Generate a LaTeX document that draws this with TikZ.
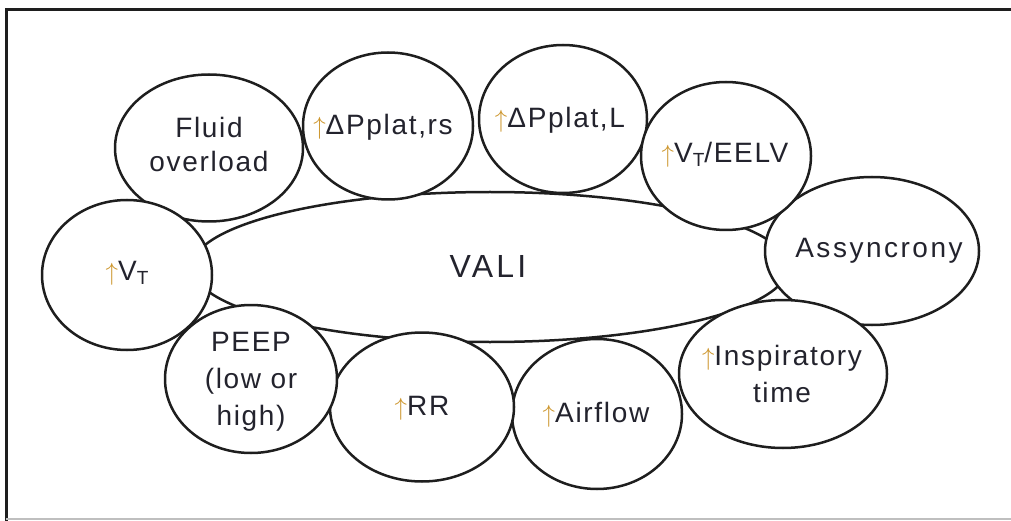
\documentclass[tikz,border=0pt]{standalone}
\usepackage{fontspec}
\setmainfont{Liberation Sans}[LetterSpace=6]
\usetikzlibrary{shapes.geometric}
\definecolor{txtc}{RGB}{35,35,45}
\definecolor{arrc}{RGB}{205,150,45}
\definecolor{linec}{RGB}{30,30,30}
\newcommand{\uparr}{{\color{arrc}$\uparrow$}}
\newcommand{\subT}{\raisebox{-4pt}{\fontsize{19}{19}\selectfont T}}
\tikzset{
  ell/.style={ellipse, draw=linec, line width=2.5pt, fill=white, inner sep=0pt},
  lbl/.style={text=txtc, font=\fontsize{28}{36}\selectfont, align=center, inner sep=0pt},
}
\begin{document}
\begin{tikzpicture}[x=1pt,y=-1pt]
\useasboundingbox (0,0) rectangle (1011,521);
% frame
\draw[line width=3pt, color=linec] (6,521) -- (6,10) -- (1011,10);
\draw[line width=2pt, color=black!25] (6,519) -- (1011,519);
% central ellipse
\node[ell, minimum width=596pt, minimum height=150pt] (vali) at (490,267) {};
\node[lbl, anchor=base, font=\fontsize{32}{36}\selectfont\addfontfeatures{LetterSpace=10}] (vali-t) at (488,277) {VALI};
% surrounding ellipses
\node[ell, minimum width=188pt, minimum height=147pt] (fo) at (209,148) {};
\node[ell, minimum width=170pt, minimum height=147pt] (prs) at (388,126) {};
\node[ell, minimum width=168pt, minimum height=148pt] (pl) at (563,119) {};
\node[ell, minimum width=214pt, minimum height=148pt] (asy) at (872,251) {};
\node[ell, minimum width=170pt, minimum height=148pt] (vte) at (726,156) {};
\node[ell, minimum width=208pt, minimum height=148pt] (insp) at (783,374) {};
\node[ell, minimum width=170pt, minimum height=150pt] (air) at (597,414) {};
\node[ell, minimum width=184pt, minimum height=149pt] (rr) at (422,407) {};
\node[ell, minimum width=172pt, minimum height=148pt] (peep) at (251,379) {};
\node[ell, minimum width=170pt, minimum height=150pt] (vt) at (127,275) {};
% labels (base = baseline of last line)
\node[lbl, anchor=base, font=\fontsize{28}{34}\selectfont] (fo-t) at (209,172) {Fluid\\overload};
\node[lbl, anchor=base] (prs-t) at (383,135) {\uparr ΔPplat,rs};
\node[lbl, anchor=base] (pl-t) at (560,128) {\uparr ΔPplat,L};
\node[lbl, anchor=base] (vte-t) at (725,163) {\uparr V\subT/EELV};
\node[lbl, anchor=base, font=\fontsize{28}{36}\selectfont\addfontfeatures{LetterSpace=9}] (asy-t) at (879,258) {Assyncrony};
\node[lbl, anchor=base, font=\fontsize{28}{37}\selectfont] (insp-t) at (782,402) {\uparr Inspiratory\\time};
\node[lbl, anchor=base] (air-t) at (596,422) {\uparr Airflow};
\node[lbl, anchor=base] (rr-t) at (422,415) {\uparr RR};
\node[lbl, anchor=base, font=\fontsize{28}{37}\selectfont] (peep-t) at (251,425) {PEEP\\(low or\\high)};
\node[lbl, anchor=base] (vt-t) at (127,280) {\uparr V\subT};
\end{tikzpicture}
\end{document}
